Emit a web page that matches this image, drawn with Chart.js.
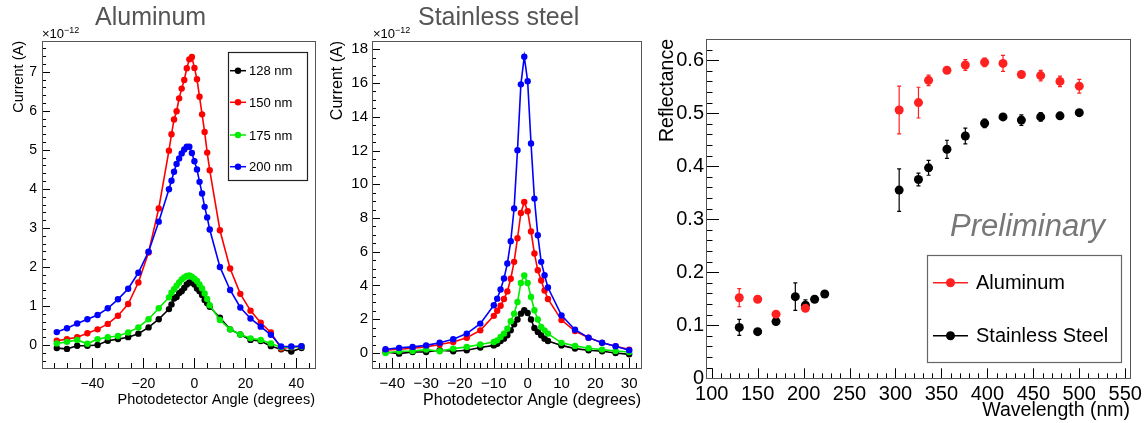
<!DOCTYPE html>
<html>
<head>
<meta charset="utf-8">
<script src="https://cdn.jsdelivr.net/npm/chart.js@4.4.0/dist/chart.umd.min.js"></script>
<style>
  body { margin: 0; background: #fff; width: 1147px; height: 423px; position: relative; overflow: hidden;
         font-family: "Liberation Sans", Arial, sans-serif; }
  canvas { position: absolute; top: 0; }
  .ttl { position: absolute; top: 2px; color: #555; font-size: 25px; white-space: nowrap; }
  .exp { position: absolute; top: 25px; font-size: 13px; white-space: nowrap; }
  .exp sup { font-size: 9px; vertical-align: 5px; }
</style>
</head>
<body>
<canvas id="alChart" width="330" height="423" style="left:0"></canvas>
<canvas id="ssChart" width="320" height="423" style="left:330px"></canvas>
<canvas id="reflChart" width="497" height="423" style="left:650px"></canvas>
<div class="ttl" style="left:95px">Aluminum</div>
<div class="ttl" style="left:418px">Stainless steel</div>
<div class="exp" style="left:42px">×10<sup>−12</sup></div>
<div class="exp" style="left:373px">×10<sup>−12</sup></div>
<script>
// ---- Aluminum: current vs photodetector angle (x1e-12 A)
const alAngle = [-54, -50, -46, -42, -38, -34, -30, -26, -22, -18, -14, -10,
  -9, -8, -7, -6, -5, -4, -3, -2, -1, 0, 1, 2, 3, 4, 5, 6,
  10, 14, 18, 22, 26, 30, 34, 38, 42];
const al128 = [-0.08, -0.1, -0.02, -0.02, 0, 0.11, 0.15, 0.2, 0.29, 0.45, 0.66, 0.92,
  1.04, 1.19, 1.23, 1.33, 1.38, 1.46, 1.55, 1.6, 1.6, 1.55, 1.45, 1.38, 1.28, 1.15, 1.07, 0.98,
  0.7, 0.4, 0.27, 0.13, 0.1, -0.03, -0.11, -0.17, -0.08];
const al150 = [0.11, 0.15, 0.2, 0.3, 0.4, 0.54, 0.75, 1.05, 1.6, 2.37, 3.5, 4.98,
  5.4, 5.78, 5.99, 6.32, 6.57, 6.79, 7.09, 7.32, 7.38, 7.1, 6.81, 6.36, 5.91, 5.46, 4.93, 4.48,
  2.94, 1.96, 1.31, 0.88, 0.57, 0.32, -0.09, -0.06, -0.04];
const al175 = [0.04, 0.08, 0.13, 0.03, 0.15, 0.2, 0.23, 0.32, 0.45, 0.66, 0.94, 1.22,
  1.34, 1.43, 1.52, 1.6, 1.68, 1.73, 1.77, 1.78, 1.75, 1.7, 1.64, 1.55, 1.45, 1.32, 1.18, 1.02,
  0.64, 0.4, 0.27, 0.17, 0.13, 0.04, -0.06, -0.05, -0.04];
const al200 = [0.33, 0.43, 0.55, 0.66, 0.77, 0.94, 1.17, 1.44, 1.85, 2.39, 3.16, 3.99,
  4.21, 4.44, 4.64, 4.78, 4.91, 5.01, 5.08, 5.08, 4.92, 4.71, 4.5, 4.18, 3.88, 3.54, 3.27, 2.96,
  2.0, 1.41, 0.96, 0.68, 0.47, 0.26, -0.04, -0.04, -0.03];
const alXTicks = [-40, -20, 0, 20, 40];
const alYTicks = [0, 1, 2, 3, 4, 5, 6, 7];

// ---- Stainless steel: current vs photodetector angle (x1e-12 A)
const ssAngle = [-42, -38, -34, -30, -26, -22, -18, -14, -10,
  -9, -8, -7, -6, -5, -4, -3, -2, -1, 0, 1, 2, 3, 4, 5, 6,
  10, 14, 18, 22, 26, 30];
const ss128 = [0.06, -0.04, 0.06, 0.06, 0.16, 0.1, 0.16, 0.32, 0.45,
  0.55, 0.71, 0.85, 1.05, 1.34, 1.7, 1.98, 2.33, 2.53, 2.37, 1.98, 1.48, 1.25, 1.05, 0.85, 0.71,
  0.45, 0.26, 0.16, 0.1, 0, -0.08];
const ss150 = [0.16, 0.22, 0.28, 0.36, 0.5, 0.65, 0.9, 1.34, 2.2,
  2.5, 2.8, 3.2, 3.65, 4.4, 5.4, 6.8, 8.3, 8.95, 8.4, 7.2, 5.9, 4.9, 4.3, 3.7, 3.2,
  1.95, 1.3, 0.9, 0.6, 0.4, 0.2];
const ss175 = [0, 0.1, 0.12, 0.2, 0.1, 0.26, 0.36, 0.5, 0.65,
  0.75, 0.95, 1.15, 1.44, 1.88, 2.33, 3.02, 4.15, 4.59, 4.15, 3.32, 2.53, 1.98, 1.54, 1.34, 1.15,
  0.6, 0.42, 0.28, 0.2, 0.12, 0.06];
const ss200 = [0.22, 0.3, 0.36, 0.45, 0.61, 0.81, 1.15, 1.74, 2.83,
  3.22, 3.76, 4.41, 5.3, 6.62, 8.56, 12.02, 15.92, 17.56, 16.11, 12.42, 9.15, 6.98, 5.4, 4.61, 3.88,
  2.23, 1.38, 0.91, 0.61, 0.4, 0.16];
const ssXTicks = [-40, -30, -20, -10, 0, 10, 20, 30];
const ssYTicks = [0, 2, 4, 6, 8, 10, 12, 14, 16, 18];

const seriesLabels = ['128 nm', '150 nm', '175 nm', '200 nm'];
const seriesColors = ['#000000', '#ff0000', '#00ee00', '#0000ff'];

// ---- Reflectance vs wavelength
const wlAl = [130, 150, 170, 202, 304, 325, 336, 356, 376, 397, 417, 437, 458, 479, 500];
const reflAl = [0.152, 0.149, 0.121, 0.132, 0.506, 0.52, 0.562, 0.581, 0.591, 0.596, 0.594, 0.573, 0.571, 0.56, 0.551];
const errAl = [0.017, 0.003, 0.004, 0.005, 0.045, 0.029, 0.01, 0.004, 0.01, 0.008, 0.015, 0.004, 0.01, 0.01, 0.013];
const wlSS = [130, 150, 170, 191, 202, 212, 223, 304, 325, 336, 356, 376, 397, 417, 437, 458, 479, 500];
const reflSS = [0.096, 0.088, 0.107, 0.154, 0.138, 0.149, 0.159, 0.355, 0.375, 0.397, 0.432, 0.457, 0.481, 0.493, 0.487, 0.493, 0.495, 0.501];
const errSS = [0.015, 0.003, 0.004, 0.026, 0.01, 0.004, 0.004, 0.04, 0.012, 0.014, 0.017, 0.015, 0.008, 0.006, 0.01, 0.008, 0.006, 0.006];
const wlTicks = [100, 150, 200, 250, 300, 350, 400, 450, 500, 550];
const reflTicks = [0, 0.1, 0.2, 0.3, 0.4, 0.5, 0.6];

Chart.defaults.font.family = '"Liberation Sans", Arial, sans-serif';
Chart.defaults.color = '#000';

const minus = v => String(v).replace('-', '\u2212');

// ROOT-like frame, inward ticks, axis titles, legend box
const rootFrame = {
  id: 'rootFrame',
  beforeDatasetsDraw(chart, args, o) {
    const ctx = chart.ctx, a = chart.chartArea, x = chart.scales.x, y = chart.scales.y;
    ctx.save();
    ctx.strokeStyle = '#000';
    ctx.lineWidth = 1;
    ctx.beginPath();
    for (let k = Math.ceil(x.min / o.xMinor); k * o.xMinor <= x.max; k++) {
      const v = k * o.xMinor;
      const major = Math.abs(v / o.xMajor - Math.round(v / o.xMajor)) < 1e-6;
      const p = Math.round(x.getPixelForValue(v)) + 0.5;
      ctx.moveTo(p, a.bottom);
      ctx.lineTo(p, a.bottom - (major ? o.xLen : o.xLen / 2));
    }
    for (let k = Math.ceil(y.min / o.yMinor - 1e-6); k * o.yMinor <= y.max + 1e-9; k++) {
      const v = k * o.yMinor;
      const major = Math.abs(v / o.yMajor - Math.round(v / o.yMajor)) < 1e-6;
      const p = Math.round(y.getPixelForValue(v)) + 0.5;
      ctx.moveTo(a.left, p);
      ctx.lineTo(a.left + (major ? o.yLen : o.yLen / 2), p);
    }
    ctx.stroke();
    ctx.strokeStyle = '#555';
    ctx.strokeRect(Math.round(a.left) + 0.5, Math.round(a.top) + 0.5,
      Math.round(a.right - a.left), Math.round(a.bottom - a.top));
    ctx.restore();
  },
  afterDraw(chart, args, o) {
    const ctx = chart.ctx, a = chart.chartArea;
    ctx.save();
    ctx.fillStyle = '#000';
    ctx.font = o.titleSize + 'px "Liberation Sans", Arial, sans-serif';
    ctx.textAlign = 'right';
    ctx.textBaseline = 'middle';
    ctx.fillText(o.xTitle, a.right, o.xTitleY);
    ctx.translate(o.yTitleX, a.top);
    ctx.rotate(-Math.PI / 2);
    ctx.fillText(o.yTitle, 0, 0);
    ctx.restore();

    const lg = o.legend;
    if (!lg) return;
    ctx.save();
    ctx.fillStyle = '#fff';
    ctx.fillRect(lg.box[0], lg.box[1], lg.box[2] - lg.box[0], lg.box[3] - lg.box[1]);
    ctx.strokeStyle = lg.border;
    ctx.lineWidth = 1.2;
    ctx.strokeRect(lg.box[0] + 0.5, lg.box[1] + 0.5, lg.box[2] - lg.box[0], lg.box[3] - lg.box[1]);
    ctx.font = lg.size + 'px "Liberation Sans", Arial, sans-serif';
    ctx.textAlign = 'left';
    ctx.textBaseline = 'middle';
    lg.rows.forEach((ry, i) => {
      const ds = chart.data.datasets[lg.index[i]];
      ctx.strokeStyle = ds.borderColor;
      ctx.lineWidth = 1.5;
      ctx.beginPath();
      ctx.moveTo(lg.line[0], ry);
      ctx.lineTo(lg.line[1], ry);
      ctx.stroke();
      ctx.fillStyle = ds.backgroundColor;
      ctx.beginPath();
      ctx.arc((lg.line[0] + lg.line[1]) / 2, ry, ds.pointRadius, 0, Math.PI * 2);
      ctx.fill();
      ctx.fillStyle = '#000';
      ctx.fillText(ds.label, lg.textX, ry + 1);
    });
    if (lg.note) {
      ctx.fillStyle = '#777';
      ctx.font = 'italic 31px "Liberation Sans", Arial, sans-serif';
      ctx.textBaseline = 'alphabetic';
      ctx.fillText(lg.note, lg.noteX, lg.noteY);
    }
    ctx.restore();
  }
};

// vertical and horizontal error bars from dataset.yErr / dataset.xErr
const errorBars = {
  id: 'errorBars',
  beforeDatasetsDraw(chart) {
    const ctx = chart.ctx, x = chart.scales.x, y = chart.scales.y;
    ctx.save();
    chart.data.datasets.forEach(ds => {
      if (!ds.yErr) return;
      ctx.strokeStyle = ds.borderColor;
      ctx.lineWidth = 1.2;
      ds.data.forEach((p, i) => {
        const px = x.getPixelForValue(p.x), py = y.getPixelForValue(p.y);
        const y1 = y.getPixelForValue(p.y + ds.yErr[i]), y2 = y.getPixelForValue(p.y - ds.yErr[i]);
        const x1 = x.getPixelForValue(p.x - ds.xErr), x2 = x.getPixelForValue(p.x + ds.xErr);
        ctx.beginPath();
        ctx.moveTo(px, y1); ctx.lineTo(px, y2);
        ctx.moveTo(px - 2, y1); ctx.lineTo(px + 2, y1);
        ctx.moveTo(px - 2, y2); ctx.lineTo(px + 2, y2);
        ctx.moveTo(x1, py); ctx.lineTo(x2, py);
        ctx.stroke();
      });
    });
    ctx.restore();
  }
};

function lineSets(angle, series) {
  return series.map((vals, i) => ({
    label: seriesLabels[i],
    data: angle.map((a, j) => ({ x: a, y: vals[j] })),
    borderColor: seriesColors[i],
    backgroundColor: seriesColors[i],
    borderWidth: 1.6,
    pointRadius: 3.2,
    pointBorderWidth: 0,
    tension: 0,
    order: 3 - i
  }));
}

function axis(min, max, tickList, size, pad, fit, fmt) {
  return {
    type: 'linear', min, max,
    grid: { display: false, drawTicks: false },
    border: { display: false },
    afterBuildTicks: s => { s.ticks = tickList.map(v => ({ value: v })); },
    afterFit: fit,
    ticks: { autoSkip: false, maxRotation: 0, padding: pad, font: { size }, color: '#000', callback: fmt }
  };
}

const baseOpts = { responsive: false, maintainAspectRatio: false, devicePixelRatio: 1, animation: false,
  plugins: { legend: { display: false }, tooltip: { enabled: false } } };

new Chart(document.getElementById('alChart'), {
  type: 'line',
  data: { datasets: lineSets(alAngle, [al128, al150, al175, al200]) },
  options: {
    ...baseOpts,
    layout: { padding: { top: 41, right: 15, left: 0, bottom: 0 } },
    scales: {
      x: axis(-59.8, 47.3, alXTicks, 14, 8, s => { s.height = 55; }, v => minus(v)),
      y: axis(-0.59, 7.79, alYTicks, 14, 5, s => { s.width = 42; }, v => minus(v))
    },
    plugins: {
      ...baseOpts.plugins,
      rootFrame: { xMajor: 20, xMinor: 5, xLen: 10, yMajor: 1, yMinor: 0.2, yLen: 8,
        xTitle: 'Photodetector Angle (degrees)', xTitleY: 400, yTitle: 'Current (A)', yTitleX: 19, titleSize: 14.5,
        legend: { box: [228, 52, 307, 180], rows: [70.7, 102.3, 135, 166.7], index: [0, 1, 2, 3],
          line: [230, 246], textX: 249, size: 13, border: '#222' } }
    }
  },
  plugins: [rootFrame]
});

new Chart(document.getElementById('ssChart'), {
  type: 'line',
  data: { datasets: lineSets(ssAngle, [ss128, ss150, ss175, ss200]) },
  options: {
    ...baseOpts,
    layout: { padding: { top: 41, right: 9, left: 0, bottom: 0 } },
    scales: {
      x: axis(-46, 33.5, ssXTicks, 15, 7, s => { s.height = 55; }, v => minus(v)),
      y: axis(-0.89, 18.49, ssYTicks, 15, 4, s => { s.width = 42; }, v => minus(v))
    },
    plugins: {
      ...baseOpts.plugins,
      rootFrame: { xMajor: 10, xMinor: 2, xLen: 10, yMajor: 2, yMinor: 0.5, yLen: 8,
        xTitle: 'Photodetector Angle (degrees)', xTitleY: 401, yTitle: 'Current (A)', yTitleX: 8, titleSize: 16 }
    }
  },
  plugins: [rootFrame]
});

new Chart(document.getElementById('reflChart'), {
  type: 'scatter',
  data: {
    datasets: [
      { label: 'Aluminum', data: wlAl.map((w, i) => ({ x: w, y: reflAl[i] })), yErr: errAl, xErr: 4,
        borderColor: '#ff2020', backgroundColor: '#ff2020', pointRadius: 4.5, pointBorderWidth: 0 },
      { label: 'Stainless Steel', data: wlSS.map((w, i) => ({ x: w, y: reflSS[i] })), yErr: errSS, xErr: 4,
        borderColor: '#000000', backgroundColor: '#000000', pointRadius: 4.5, pointBorderWidth: 0 }
    ]
  },
  options: {
    ...baseOpts,
    layout: { padding: { top: 39, right: 17, left: 0, bottom: 0 } },
    scales: {
      x: axis(93.8, 555.2, wlTicks, 20, 4, s => { s.height = 44.7; }, v => String(v)),
      y: axis(0, 0.64, reflTicks, 20, 2, s => { s.width = 56; }, v => (v === 0 ? '0' : v.toFixed(1)))
    },
    plugins: {
      ...baseOpts.plugins,
      rootFrame: { xMajor: 50, xMinor: 10, xLen: 10, yMajor: 0.1, yMinor: 0.02, yLen: 13,
        xTitle: 'Wavelength (nm)', xTitleY: 411, yTitle: 'Reflectance', yTitleX: 18, titleSize: 19.5,
        legend: { box: [277, 255, 471, 362], rows: [282.7, 335.7], index: [0, 1],
          line: [283, 318], textX: 326, size: 20, border: '#666',
          note: 'Preliminary', noteX: 300, noteY: 236 } }
    }
  },
  plugins: [errorBars, rootFrame]
});
</script>
</body>
</html>
